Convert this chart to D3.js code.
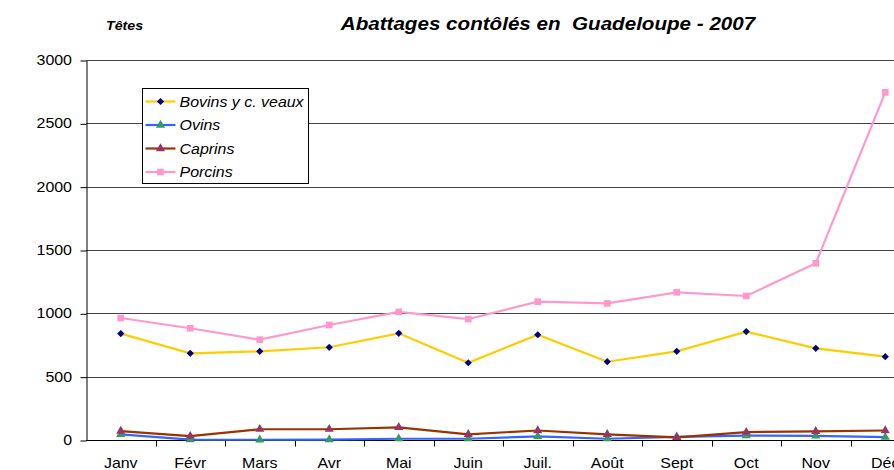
<!DOCTYPE html>
<html>
<head>
<meta charset="utf-8">
<script src="https://cdn.jsdelivr.net/npm/d3@7"></script>
<style>
  body { margin: 0; background: #fff; }
  svg { font-family: "Liberation Sans", Arial, sans-serif; }
</style>
</head>
<body>
<div id="chart"></div>
<script>
const months = ['Janv', 'Févr', 'Mars', 'Avr', 'Mai', 'Juin', 'Juil.', 'Août', 'Sept', 'Oct', 'Nov', 'Déc'];
const bovins = [840, 684, 700, 732, 842, 610, 831, 618, 700, 856, 724, 658];
const ovins = [45, 3, 2, 3, 10, 10, 28, 10, 25, 35, 32, 22];
const caprins = [70, 30, 85, 85, 100, 45, 75, 45, 20, 62, 68, 75];
const porcins = [963, 882, 792, 908, 1011, 955, 1092, 1079, 1166, 1137, 1395, 2745];
const yTicks = [0, 500, 1000, 1500, 2000, 2500, 3000];

// rotated square for the diamond marker
const diamondShape = {
	draw(ctx, size) {
		const r = Math.sqrt(size / 2);
		ctx.moveTo(0, -r);
		ctx.lineTo(r, 0);
		ctx.lineTo(0, r);
		ctx.lineTo(-r, 0);
		ctx.closePath();
	}
};

const series = [
	{ name: 'Bovins y c. veaux', values: bovins, line: '#FFCC00', marker: '#000080', shape: diamondShape, size: 26 },
	{ name: 'Ovins', values: ovins, line: '#3366FF', marker: '#339966', shape: d3.symbolTriangle, size: 36 },
	{ name: 'Caprins', values: caprins, line: '#993300', marker: '#993366', shape: d3.symbolTriangle, size: 36 },
	{ name: 'Porcins', values: porcins, line: '#FF99CC', marker: '#FF99CC', shape: d3.symbolSquare, size: 45 }
];

const width = 894;
const height = 470;
const marginLeft = 86;
const marginTop = 60;
const bandW = 69.5;
const plotW = bandW * months.length;
const plotH = 380;
const stretch = 1.14;

const svg = d3.select('#chart')
	.append('svg')
	.attr('width', width)
	.attr('height', height);

// text stretched a little wider, like the original export
function addText(parent, x, y, str, size, anchor, sx) {
	return parent.append('text')
		.attr('transform', 'translate(' + x + ',' + y + ') scale(' + (sx || stretch) + ',1)')
		.attr('text-anchor', anchor || 'start')
		.attr('font-size', size)
		.text(str);
}

const xScale = d3.scaleBand().domain(months).range([marginLeft, marginLeft + plotW]);
const yScale = d3.scaleLinear().domain([0, 3000]).range([marginTop + plotH, marginTop]);

// grid lines
svg.append('g')
	.selectAll('line')
	.data(yTicks.filter(d => d > 0))
	.enter()
	.append('line')
	.attr('x1', marginLeft)
	.attr('x2', marginLeft + plotW)
	.attr('y1', d => Math.round(yScale(d)) + 0.5)
	.attr('y2', d => Math.round(yScale(d)) + 0.5)
	.attr('stroke', '#444')
	.attr('stroke-width', 1);

// y axis
const yAxis = svg.append('g')
	.attr('transform', 'translate(' + (marginLeft + 0.5) + ',0.5)')
	.call(d3.axisLeft(yScale).tickValues(yTicks).tickSize(6).tickFormat('').tickSizeOuter(0));
yAxis.selectAll('line, path').attr('stroke', '#000');
yTicks.forEach(t => {
	addText(svg, marginLeft - 14, yScale(t) + 5, String(t), 14, 'end');
});

// x axis
const xAxis = svg.append('g')
	.attr('transform', 'translate(0,' + (Math.round(yScale(0)) + 0.5) + ')');
xAxis.append('line')
	.attr('x1', marginLeft)
	.attr('x2', marginLeft + plotW)
	.attr('stroke', '#000');
xAxis.selectAll('.xt')
	.data(d3.range(1, months.length + 1))
	.enter()
	.append('line')
	.attr('x1', i => Math.round(marginLeft + i * bandW) + 0.5)
	.attr('x2', i => Math.round(marginLeft + i * bandW) + 0.5)
	.attr('y1', 0)
	.attr('y2', 6)
	.attr('stroke', '#000');
months.forEach(m => {
	addText(xAxis, xScale(m) + xScale.bandwidth() / 2, 27.5, m, 14, 'middle');
});

// series
const lineFn = d3.line()
	.x((d, i) => xScale(months[i]) + xScale.bandwidth() / 2)
	.y(d => yScale(d));

series.forEach(s => {
	svg.append('path')
		.datum(s.values)
		.attr('fill', 'none')
		.attr('stroke', s.line)
		.attr('stroke-width', 2.2)
		.attr('d', lineFn);
});
series.forEach(s => {
	svg.append('g')
		.selectAll('path')
		.data(s.values)
		.enter()
		.append('path')
		.attr('transform', (d, i) => 'translate(' + (xScale(months[i]) + xScale.bandwidth() / 2) + ',' + yScale(d) + ')')
		.attr('d', d3.symbol().type(s.shape).size(s.size))
		.attr('fill', s.marker);
});

// legend
const legend = svg.append('g').attr('transform', 'translate(142.5,88.5)');
legend.append('rect')
	.attr('width', 166)
	.attr('height', 95)
	.attr('fill', '#fff')
	.attr('stroke', '#000');
series.forEach((s, i) => {
	const y = 13 + i * 23.5;
	legend.append('line')
		.attr('x1', 3).attr('x2', 33)
		.attr('y1', y).attr('y2', y)
		.attr('stroke', s.line)
		.attr('stroke-width', 2.2);
	legend.append('path')
		.attr('transform', 'translate(18,' + y + ')')
		.attr('d', d3.symbol().type(s.shape).size(s.size))
		.attr('fill', s.marker);
	addText(legend, 37, y + 5, s.name, 14).attr('font-style', 'italic');
});

// titles
addText(svg, 548, 29.5, 'Abattages contôlés en  Guadeloupe - 2007', 19, 'middle', 1.085)
	.attr('font-weight', 'bold')
	.attr('font-style', 'italic')
	.style('white-space', 'pre');
addText(svg, 106, 30, 'Têtes', 12.5)
	.attr('font-weight', 'bold')
	.attr('font-style', 'italic');
</script>
</body>
</html>
